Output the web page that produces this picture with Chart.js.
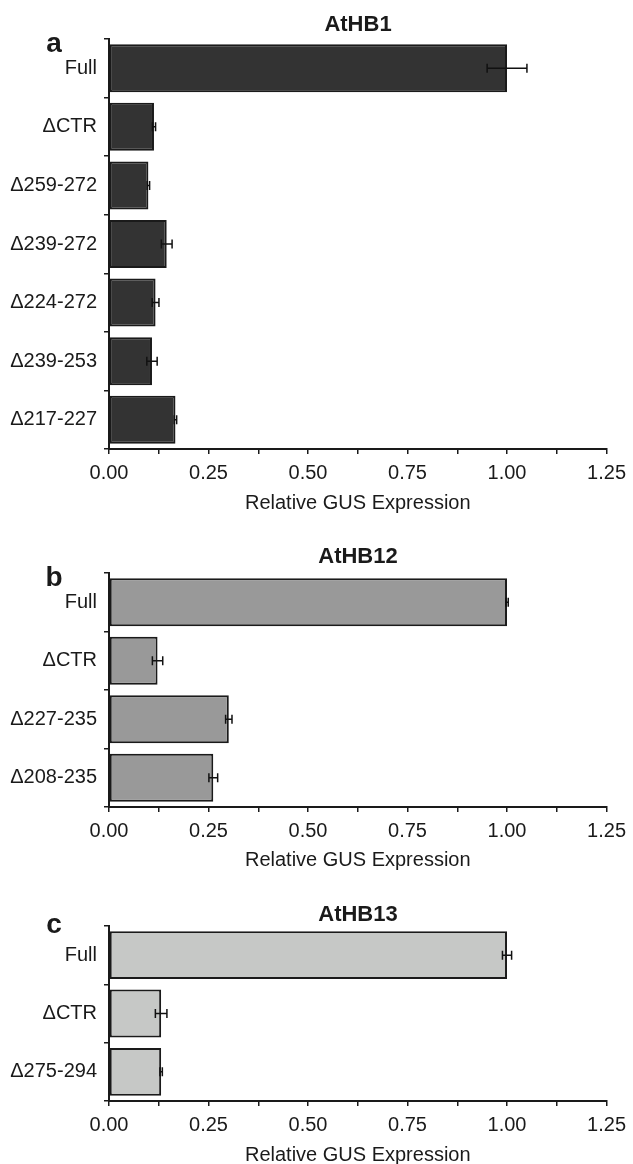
<!DOCTYPE html>
<html>
<head>
<meta charset="utf-8">
<script src="https://cdn.jsdelivr.net/npm/chart.js"></script>
<style>
  body { margin: 0; background: #fff; width: 633px; height: 1164px; overflow: hidden; position: relative; }
  canvas { position: absolute; left: 0; }
</style>
</head>
<body>
<canvas id="panelA" width="633" height="515" style="top:0px"></canvas>
<canvas id="panelB" width="633" height="332" style="top:540px"></canvas>
<canvas id="panelC" width="633" height="287" style="top:880px"></canvas>
<script>
// AtHB1
const labelsA = ['Full', '\u0394CTR', '\u0394259-272', '\u0394239-272', '\u0394224-272', '\u0394239-253', '\u0394217-227'];
const valuesA = [1.00, 0.113, 0.099, 0.145, 0.117, 0.108, 0.167];
const errorsA = [0.05, 0.004, 0.003, 0.0135, 0.0085, 0.013, 0.003];

// AtHB12
const labelsB = ['Full', '\u0394CTR', '\u0394227-235', '\u0394208-235'];
const valuesB = [1.00, 0.122, 0.301, 0.262];
const errorsB = [0.003, 0.013, 0.008, 0.011];

// AtHB13
const labelsC = ['Full', '\u0394CTR', '\u0394275-294'];
const valuesC = [1.00, 0.131, 0.131];
const errorsC = [0.0115, 0.0145, 0.003];

const xTicks = [0, 0.25, 0.5, 0.75, 1.0, 1.25];

const FONT = "'Liberation Sans', Arial, Helvetica, sans-serif";
const INK = '#1a1a1a';

// horizontal error bars with caps
const errorBars = {
  id: 'errorBars',
  afterDatasetsDraw(chart, args, opts) {
    const ctx = chart.ctx;
    const x = chart.scales.x;
    const meta = chart.getDatasetMeta(0);
    const vals = chart.data.datasets[0].data;
    ctx.save();
    ctx.strokeStyle = '#111';
    ctx.lineWidth = 1.5;
    meta.data.forEach((bar, i) => {
      const e = opts.errors[i];
      const x1 = x.getPixelForValue(vals[i] - e);
      const x2 = x.getPixelForValue(vals[i] + e);
      const y = bar.y;
      ctx.beginPath();
      ctx.moveTo(x1, y); ctx.lineTo(x2, y);
      ctx.moveTo(x1, y - 4.5); ctx.lineTo(x1, y + 4.5);
      ctx.moveTo(x2, y - 4.5); ctx.lineTo(x2, y + 4.5);
      ctx.stroke();
    });
    ctx.restore();
  }
};

// panel title and letter
const panelText = {
  id: 'panelText',
  afterDraw(chart, args, opts) {
    const ctx = chart.ctx;
    ctx.save();
    ctx.fillStyle = INK;
    ctx.textAlign = 'center';
    ctx.textBaseline = 'middle';
    ctx.font = 'bold 22px ' + FONT;
    ctx.fillText(opts.title, 358, opts.titleY);
    ctx.font = 'bold 28px ' + FONT;
    ctx.fillText(opts.letter, 54, opts.letterY);
    ctx.restore();
  }
};

function makePanel(id, labels, values, errors, color, padTop, xHeight, title, titleY, letter, letterY) {
  new Chart(document.getElementById(id), {
    type: 'bar',
    data: {
      labels: labels,
      datasets: [{
        data: values,
        backgroundColor: color,
        borderColor: INK,
        borderWidth: 2,
        borderSkipped: false,
        inflateAmount: 0,
        barPercentage: 0.82,
        categoryPercentage: 1.0
      }]
    },
    options: {
      indexAxis: 'y',
      responsive: false,
      animation: false,
      devicePixelRatio: 1,
      layout: { padding: { top: padTop, right: 21, left: 0, bottom: 0 } },
      plugins: {
        legend: { display: false },
        tooltip: { enabled: false },
        errorBars: { errors: errors },
        panelText: { title: title, titleY: titleY, letter: letter, letterY: letterY }
      },
      scales: {
        x: {
          min: 0,
          max: 1.25,
          afterFit: s => { s.height = xHeight; },
          afterBuildTicks: s => { s.ticks = [0, 0.125, 0.25, 0.375, 0.5, 0.625, 0.75, 0.875, 1.0, 1.125, 1.25].map(v => ({ value: v })); },
          ticks: {
            autoSkip: false,
            maxRotation: 0,
            padding: 7,
            color: INK,
            font: { family: FONT, size: 20 },
            callback: v => (xTicks.some(t => Math.abs(t - v) < 1e-6) ? v.toFixed(2) : '')
          },
          grid: { drawOnChartArea: false, drawTicks: true, tickLength: 5, color: INK, lineWidth: 1.5 },
          border: { color: INK, width: 2 },
          title: { display: true, text: 'Relative GUS Expression', color: INK, font: { family: FONT, size: 20 }, padding: 0 }
        },
        y: {
          afterFit: s => { s.width = 109; },
          ticks: { padding: 7, color: INK, font: { family: FONT, size: 20 } },
          grid: { drawOnChartArea: false, drawTicks: true, tickLength: 5, offset: true, color: INK, lineWidth: 1.5 },
          border: { color: INK, width: 2 }
        }
      }
    },
    plugins: [errorBars, panelText]
  });
}

makePanel('panelA', labelsA, valuesA, errorsA, '#333333', 39, 66, 'AtHB1', 25, 'a', 44);
makePanel('panelB', labelsB, valuesB, errorsB, '#999999', 33, 65, 'AtHB12', 17, 'b', 38);
makePanel('panelC', labelsC, valuesC, errorsC, '#c6c8c6', 46, 66, 'AtHB13', 35, 'c', 45);
</script>
</body>
</html>
